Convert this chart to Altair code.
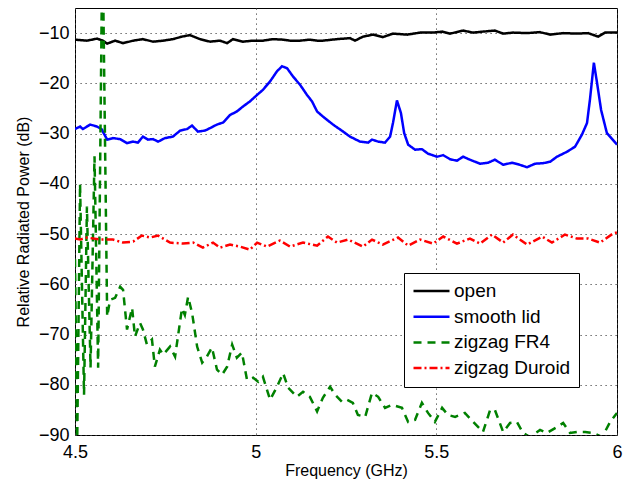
import altair as alt
import pandas as pd

series_names = ["open", "smooth lid", "zigzag FR4", "zigzag Duroid"]
series_colors = ["#000000", "#0000FF", "#008000", "#FF0000"]
series_dashes = [[1, 0], [1, 0], [8, 6], [8, 3, 2, 3]]

x_ticks = [4.5, 5, 5.5, 6]
y_ticks = [-90, -80, -70, -60, -50, -40, -30, -20, -10]

open_f = [4.5, 4.533, 4.561, 4.577, 4.589, 4.611, 4.633, 4.661, 4.688, 4.716, 4.744, 4.771, 4.796, 4.818,
          4.846, 4.874, 4.901, 4.921, 4.937, 4.965, 4.993, 5.02, 5.048, 5.076, 5.095, 5.123, 5.15, 5.17,
          5.186, 5.225, 5.261, 5.275, 5.297, 5.325, 5.352, 5.38, 5.419, 5.455, 5.491, 5.516, 5.538, 5.574,
          5.602, 5.629, 5.662, 5.685, 5.712, 5.751, 5.787, 5.815, 5.851, 5.889, 5.92, 5.948, 5.967, 6.0]
open_db = [-11.3, -11.5, -11.1, -11.5, -12.1, -11.5, -12.0, -11.5, -11.2, -11.7, -11.5, -11.2, -10.7, -10.4,
           -11.2, -11.7, -11.5, -12.0, -11.2, -11.7, -11.5, -11.5, -11.2, -11.3, -11.5, -11.5, -11.3, -11.5,
           -11.5, -11.2, -11.0, -11.5, -10.7, -10.3, -10.8, -10.1, -10.3, -9.9, -9.9, -9.7, -10.1, -9.5,
           -9.9, -9.7, -9.5, -10.1, -9.9, -10.0, -9.8, -10.3, -10.0, -10.1, -10.0, -10.7, -9.9, -9.9]

lid_f = [4.5, 4.514, 4.522, 4.542, 4.561, 4.575, 4.577, 4.589, 4.605, 4.625, 4.644, 4.661, 4.674, 4.688,
         4.702, 4.716, 4.730, 4.749, 4.771, 4.791, 4.810, 4.824, 4.840, 4.860, 4.874, 4.893, 4.910, 4.929,
         4.948, 4.965, 4.984, 5.004, 5.020, 5.040, 5.059, 5.073, 5.087, 5.103, 5.123, 5.142, 5.156, 5.170,
         5.186, 5.214, 5.242, 5.261, 5.289, 5.311, 5.322, 5.339, 5.358, 5.372, 5.380, 5.391, 5.402, 5.411,
         5.422, 5.441, 5.460, 5.477, 5.502, 5.519, 5.538, 5.557, 5.574, 5.593, 5.621, 5.643, 5.662, 5.685,
         5.710, 5.726, 5.751, 5.773, 5.795, 5.815, 5.834, 5.862, 5.884, 5.903, 5.917, 5.925, 5.936, 5.945,
         5.956, 5.972, 6.0]
lid_db = [-29.1, -28.6, -29.1, -28.2, -28.6, -29.2, -29.6, -31.2, -30.9, -31.1, -31.9, -31.6, -31.8, -30.6,
          -31.2, -31.1, -31.6, -30.9, -30.6, -29.4, -29.1, -28.4, -29.6, -29.4, -28.9, -28.2, -27.8, -26.3,
          -25.6, -24.6, -23.6, -22.3, -21.3, -19.6, -17.6, -16.6, -17.0, -18.6, -20.3, -22.3, -23.6, -25.6,
          -26.6, -28.2, -29.6, -30.6, -31.6, -31.8, -31.2, -31.6, -31.8, -30.6, -27.9, -23.4, -25.9, -29.9,
          -32.2, -33.2, -33.1, -34.0, -34.6, -34.3, -35.1, -35.4, -34.6, -35.2, -36.0, -35.8, -35.2, -36.2,
          -35.8, -36.1, -36.7, -36.0, -35.9, -35.6, -34.6, -33.6, -32.6, -30.2, -27.9, -23.3, -15.9, -20.0,
          -25.3, -29.9, -32.2]

fr4_f = [4.5, 4.506, 4.514, 4.525, 4.533, 4.543, 4.554, 4.564, 4.576, 4.589, 4.597, 4.611, 4.625, 4.633,
         4.644, 4.658, 4.666, 4.680, 4.688, 4.699, 4.713, 4.721, 4.735, 4.744, 4.763, 4.777, 4.796, 4.804,
         4.813, 4.824, 4.838, 4.852, 4.865, 4.879, 4.893, 4.907, 4.921, 4.935, 4.948, 4.962, 4.976, 4.993,
         5.007, 5.020, 5.040, 5.059, 5.076, 5.090, 5.114, 5.131, 5.150, 5.170, 5.186, 5.206, 5.220, 5.239,
         5.253, 5.269, 5.283, 5.303, 5.322, 5.339, 5.358, 5.377, 5.405, 5.422, 5.441, 5.460, 5.477, 5.496,
         5.516, 5.532, 5.552, 5.579, 5.602, 5.629, 5.649, 5.662, 5.685, 5.704, 5.723, 5.740, 5.759, 5.787,
         5.806, 5.834, 5.851, 5.870, 5.889, 5.912, 5.934, 5.959, 5.981, 6.0]
fr4_db = [-55.0, -92.0, -40.0, -82.0, -44.5, -76.6, -34.5, -76.6, 10.0, -66.4, -63.1, -62.7, -60.5, -61.1,
          -69.0, -64.7, -70.4, -67.7, -69.0, -72.0, -71.0, -76.4, -73.0, -74.0, -72.4, -74.4, -64.8, -66.1,
          -62.5, -65.7, -72.4, -75.6, -74.4, -72.6, -77.0, -78.0, -76.4, -72.0, -74.6, -73.6, -79.0, -78.6,
          -79.4, -78.4, -83.0, -80.4, -77.7, -80.6, -82.4, -81.4, -82.4, -85.3, -82.6, -80.4, -82.0, -83.4,
          -83.0, -83.6, -86.0, -86.4, -81.6, -82.4, -84.6, -84.0, -84.6, -87.4, -87.0, -83.6, -85.6, -87.4,
          -84.6, -86.0, -86.4, -85.6, -87.4, -89.4, -85.0, -85.0, -89.4, -87.6, -87.4, -89.6, -90.4, -89.0,
          -89.6, -88.4, -87.6, -89.6, -89.4, -89.4, -89.6, -90.4, -87.4, -85.6]

duroid_f = [4.5, 4.514, 4.533, 4.569, 4.605, 4.633, 4.661, 4.685, 4.708, 4.730, 4.763, 4.799, 4.827, 4.854,
            4.882, 4.901, 4.929, 4.957, 4.984, 5.004, 5.031, 5.067, 5.095, 5.131, 5.170, 5.200, 5.225, 5.256,
            5.297, 5.322, 5.352, 5.394, 5.422, 5.455, 5.491, 5.519, 5.557, 5.593, 5.621, 5.654, 5.685, 5.712,
            5.751, 5.793, 5.820, 5.856, 5.889, 5.920, 5.953, 5.989, 6.0]
duroid_db = [-50.9, -51.1, -50.7, -51.1, -51.1, -51.7, -51.5, -50.3, -50.7, -50.3, -51.7, -51.9, -51.7, -52.7,
             -51.7, -52.7, -52.1, -52.5, -53.1, -51.7, -52.5, -51.3, -52.5, -51.7, -52.3, -50.5, -51.7, -51.1,
             -52.5, -51.1, -52.1, -50.7, -52.3, -51.1, -51.9, -50.5, -51.9, -50.9, -51.9, -50.1, -51.7, -50.1,
             -52.1, -50.5, -51.7, -50.1, -50.9, -50.9, -51.7, -49.9, -49.7]

rows = []
for name, fs, ds in [("open", open_f, open_db), ("smooth lid", lid_f, lid_db),
                     ("zigzag FR4", fr4_f, fr4_db), ("zigzag Duroid", duroid_f, duroid_db)]:
    assert len(fs) == len(ds), name
    for f, d in zip(fs, ds):
        rows.append({"series": name, "freq": f, "db": d})
df = pd.DataFrame(rows)

FONT = "Liberation Sans"

chart = alt.Chart(df).mark_line(clip=True, strokeWidth=2.5).encode(
    x=alt.X("freq:Q",
            scale=alt.Scale(domain=[4.5, 6], nice=False, zero=False),
            axis=alt.Axis(values=x_ticks, format=".1~f", title="Frequency (GHz)",
                          labelPadding=8, titleY=40, titleBaseline="alphabetic")),
    y=alt.Y("db:Q",
            scale=alt.Scale(domain=[-90, -5], nice=False, zero=False),
            axis=alt.Axis(values=y_ticks, title="Relative Radiated Power (dB)",
                          labelPadding=6, titleX=-47, titleBaseline="alphabetic")),
    color=alt.Color("series:N", sort=series_names,
                    scale=alt.Scale(domain=series_names, range=series_colors),
                    legend=alt.Legend(title=None)),
    strokeDash=alt.StrokeDash("series:N", sort=series_names,
                              scale=alt.Scale(domain=series_names, range=series_dashes),
                              legend=alt.Legend(title=None)),
).properties(
    width=542, height=427,
    autosize=alt.AutoSizeParams(type="none"),
    padding={"left": 67, "top": 0, "right": 6, "bottom": 47},
).configure_view(
    stroke="#000000", strokeWidth=1
).configure_axis(
    domain=False, ticks=False, labelFlush=False, labelOverlap=False,
    labelFont=FONT, labelFontSize=18, labelColor="#000000",
    titleFont=FONT, titleFontSize=16, titleFontWeight="normal", titleColor="#000000",
    grid=True, gridColor="#444444", gridDash=[1.2, 3.8], gridWidth=1, gridOpacity=1,
).configure_legend(
    orient="none", legendX=329, legendY=265,
    strokeColor="#000000", fillColor="#FFFFFF", padding=8,
    labelFont=FONT, labelFontSize=19, labelColor="#000000", labelLimit=0,
    symbolType="stroke", symbolSize=1296, symbolStrokeWidth=2.5,
    clipHeight=20, rowPadding=5.7, labelOffset=3,
)

chart.save("out.html", embed_options={"renderer": "svg", "actions": False})
